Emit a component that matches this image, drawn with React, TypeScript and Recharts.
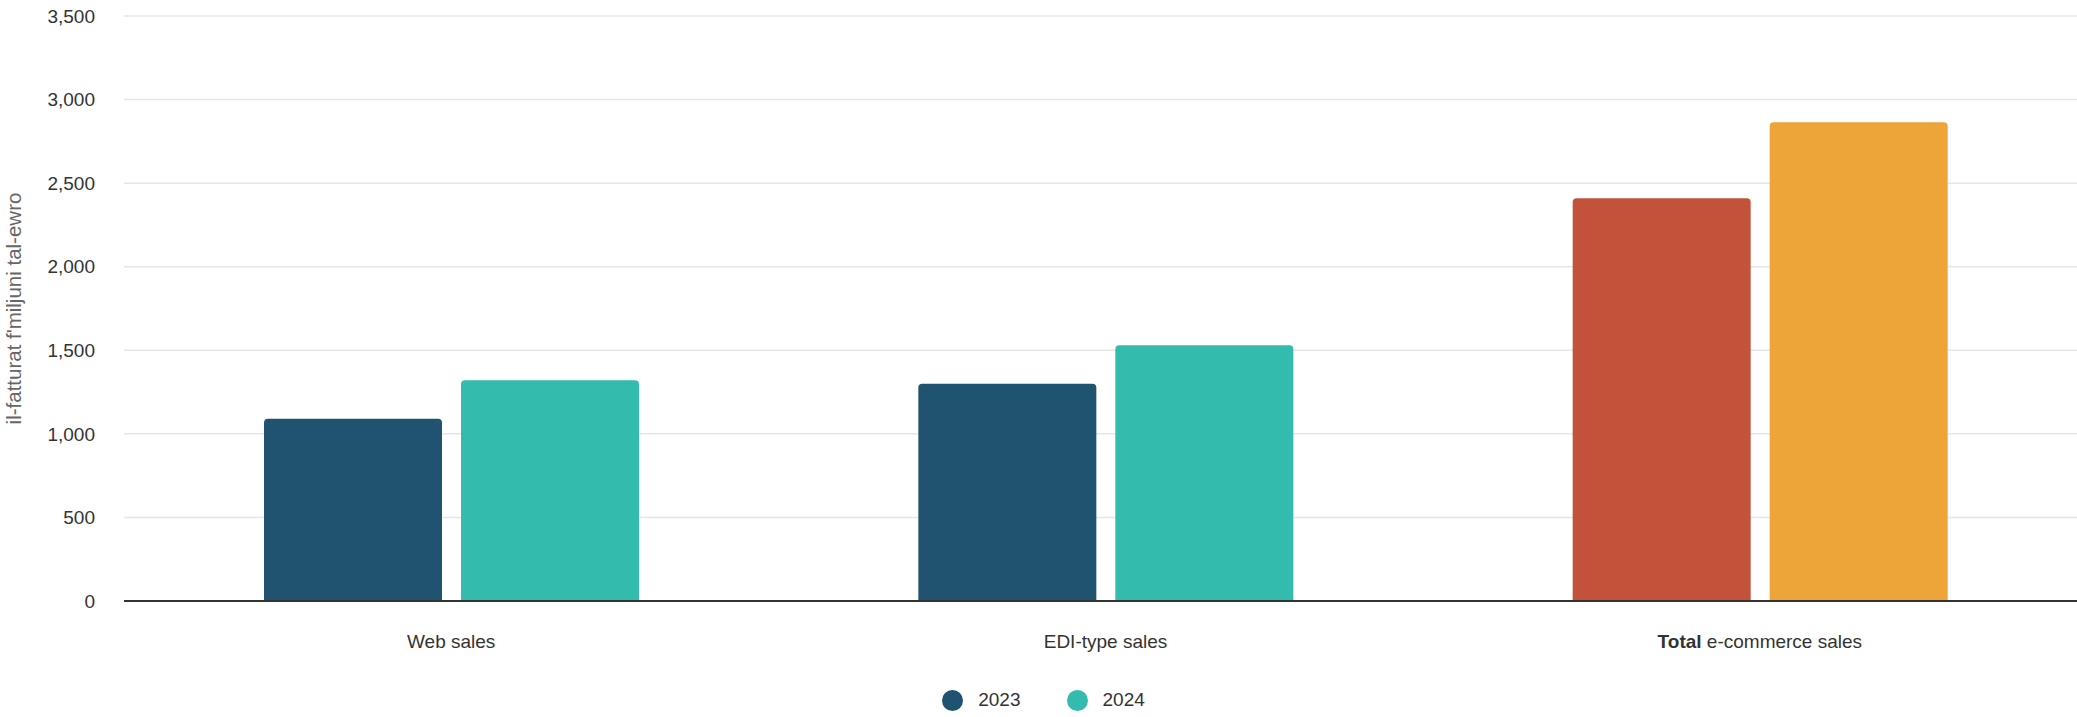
import React from 'react';
import { BarChart, Bar, XAxis, YAxis, CartesianGrid, Legend, Cell } from 'recharts';

const categories = ['Web sales', 'EDI-type sales', 'Total e-commerce sales'];
const values2023 = [1090, 1300, 2410];
const values2024 = [1320, 1530, 2865];
const yTicks = [0, 500, 1000, 1500, 2000, 2500, 3000, 3500];

const colors2023 = ['#20536F', '#20536F', '#C3523A'];
const colors2024 = ['#33BBAE', '#33BBAE', '#EDA438'];

const FONT = '"Liberation Sans", Arial, sans-serif';

const data = categories.map((name, i) => ({
  name,
  y2023: values2023[i],
  y2024: values2024[i],
}));

const CategoryTick = (props: any) => {
  const { x, y, payload } = props;
  const label: string = payload.value;
  const bold = label.startsWith('Total ');
  return (
    <text x={x} y={y} dy="0.71em" textAnchor="middle" fill="#333" fontSize={19} fontFamily={FONT}>
      {bold ? (
        <>
          <tspan fontWeight="bold">Total</tspan>
          <tspan>{label.slice(5)}</tspan>
        </>
      ) : (
        label
      )}
    </text>
  );
};

const LegendContent = () => (
  <div
    style={{
      display: 'flex',
      alignItems: 'center',
      justifyContent: 'center',
      height: 34,
      fontFamily: FONT,
      fontSize: 19,
      color: '#333',
    }}
  >
    <span style={{ width: 21, height: 21, borderRadius: '50%', background: '#20536F', marginRight: 15 }} />
    <span>2023</span>
    <span style={{ width: 21, height: 21, borderRadius: '50%', background: '#33BBAE', marginLeft: 46, marginRight: 15 }} />
    <span>2024</span>
  </div>
);

export default function App() {
  return (
    <div style={{ position: 'fixed', left: 0, top: 0, width: 2077, height: 717, overflow: 'hidden', background: '#fff' }}>
      <BarChart
        width={2087}
        height={717}
        data={data}
        margin={{ top: 16, right: 0, bottom: 0, left: 0 }}
        barSize={178}
        barGap={19}
      >
        <CartesianGrid vertical={false} stroke="#e6e6e6" strokeWidth={1.5} />
        <XAxis
          dataKey="name"
          height={82}
          tickLine={false}
          tickSize={0}
          tickMargin={34}
          axisLine={{ stroke: '#333', strokeWidth: 2 }}
          tick={<CategoryTick />}
          interval={0}
        />
        <YAxis
          width={124}
          domain={[0, 3500]}
          ticks={yTicks}
          axisLine={false}
          tickLine={false}
          tickSize={0}
          tickMargin={29}
          tickFormatter={(v: number) => v.toLocaleString('en-US')}
          tick={{ fill: '#333', fontSize: 19, fontFamily: FONT }}
          label={{
            value: "il-fatturat f'miljuni tal-ewro",
            angle: -90,
            position: 'insideLeft',
            offset: 14,
            style: { textAnchor: 'middle', fill: '#666', fontSize: 20.5, fontFamily: FONT },
          }}
        />
        <Legend verticalAlign="bottom" content={<LegendContent />} />
        <Bar dataKey="y2023" name="2023" radius={[4, 4, 0, 0]} isAnimationActive={false}>
          {data.map((_, i) => (
            <Cell key={`a-${i}`} fill={colors2023[i]} />
          ))}
        </Bar>
        <Bar dataKey="y2024" name="2024" radius={[4, 4, 0, 0]} isAnimationActive={false}>
          {data.map((_, i) => (
            <Cell key={`b-${i}`} fill={colors2024[i]} />
          ))}
        </Bar>
      </BarChart>
    </div>
  );
}
